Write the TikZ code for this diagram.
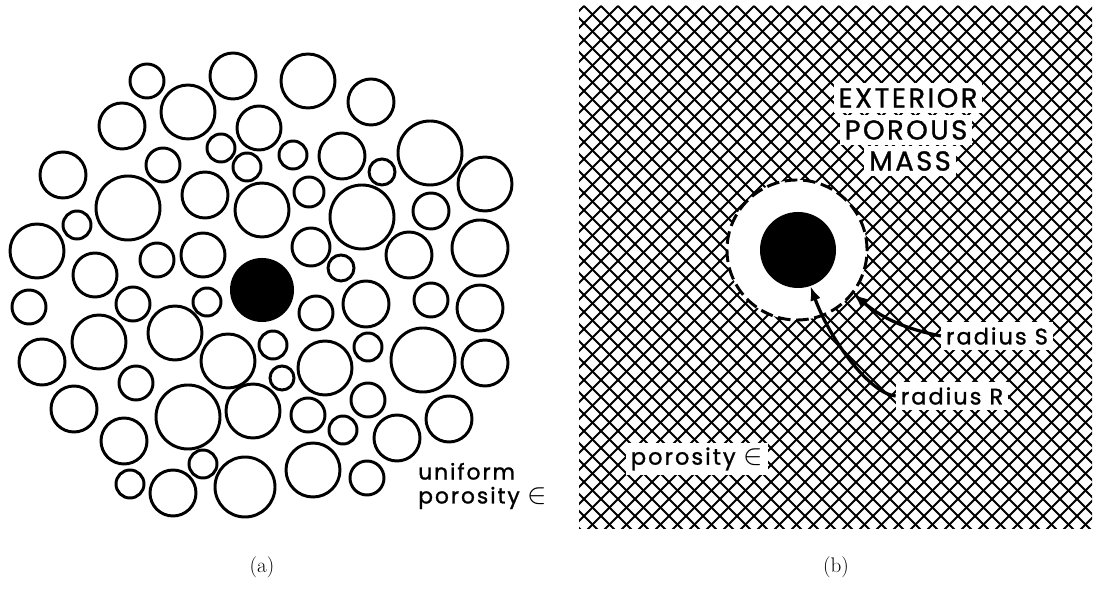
\documentclass[tikz,border=0pt]{standalone}
\usepackage{fontspec}
\usepackage{tikz}
\usetikzlibrary{arrows.meta}
\newfontfamily\futfont[LetterSpace=9,FakeBold=1.2]{Poppins}
\newcommand{\bigin}{{\fontsize{21}{21}\selectfont$\in$}}
\tikzset{
  pore/.style={draw=black,line width=2.1pt},
  grain/.style={circle,fill=black,inner sep=0pt},
  hatch/.style={draw=black,line width=1.35pt},
  shell/.style={circle,draw=black,fill=white,line width=2.1pt,
    dash pattern=on 9pt off 4pt,inner sep=0pt,minimum size=3.5cm},
  tag/.style={fill=white,inner sep=3.5pt,font=\futfont\fontsize{16}{18}\selectfont},
  bigtag/.style={fill=white,inner sep=3.5pt,font=\futfont\fontsize{19.5}{21}\selectfont},
  note/.style={inner sep=0pt,align=left,font=\futfont\fontsize{15.5}{17}\selectfont},
  ptr/.style={draw=black,line width=2.3pt,-{Latex[length=0.36cm,width=0.27cm]}},
  subcap/.style={font=\fontsize{15}{17}\selectfont},
}

\begin{document}
\begin{tikzpicture}[x=0.025cm,y=0.025cm]
  \useasboundingbox (0,0) rectangle (1102,590);
  % (a) packed grains
  \foreach \x/\y/\r in {147/509/17,233/514/23,188/478/27,122/464/23,221/442/14,
      247/423/14,163/425/17,63/415/23,128/382/32,205/395/23,77/365/14,37/339/27,
      95/315/22,157/330/17,203/335/22,308/509/27,371/488/23,259/462/22,293/435/14,
      342/434/23,382/418/13,430/437/32,485/406/27,262/380/27,309/398/15,362/373/32,
      431/379/18,480/342/28,311/343/19,409/335/23,341/322/13,29/283/17,133/286/17,
      207/288/14,99/248/27,175/257/27,228/229/27,42/228/23,136/207/17,74/181/23,
      188/173/32,124/149/23,203/126/14,130/106/14,173/97/23,245/103/30,316/277/17,
      366/286/23,431/290/17,480/282/23,273/245/14,325/222/27,368/243/14,423/230/32,
      485/227/23,282/212/12,253/179/27,308/175/17,368/190/17,343/160/14,397/152/23,
      449/171/23,313/120/27,367/112/17}
    \draw[pore] (\x,\y) circle[radius=\r];
  \node[grain,minimum size=1.6cm] (hole) at (262,300) {};
  \node[note,anchor=west] (unif) at (418,104) {uniform\\porosity \bigin};
  \node[subcap] (capa) at (262,23) {(a)};
  % (b) porous mass
  \begin{scope}
    \clip (579,61) rectangle (1092,584);
    \foreach \x in {40,57,...,1640} {
      \draw[hatch] (\x,584) -- ++(-600,-600);
      \draw[hatch] (\x,584) -- ++(600,-600);
    }
  \end{scope}
  \node[shell] (shell) at (797,340) {};
  \node[grain,minimum size=1.9cm] (core) at (798,340) {};
  \node[bigtag] (ext) at (908,492) {EXTERIOR};
  \node[bigtag] (por) at (906,460) {POROUS};
  \node[bigtag] (mass) at (910,429) {MASS};
  \node[tag] (lblS) at (997,254) {radius S};
  \node[tag] (lblR) at (952,194) {radius R};
  \node[tag] (eps) at (697,131) {porosity \bigin};
  \draw[ptr] (lblS.west) .. controls +(-35,7) and +(30,-25) .. (shell.-38);
  \draw[ptr] (lblR.west) .. controls +(-25,2) and +(20,-55) .. (core.-71);
  \node[subcap] (capb) at (836,23) {(b)};
\end{tikzpicture}
\end{document}
